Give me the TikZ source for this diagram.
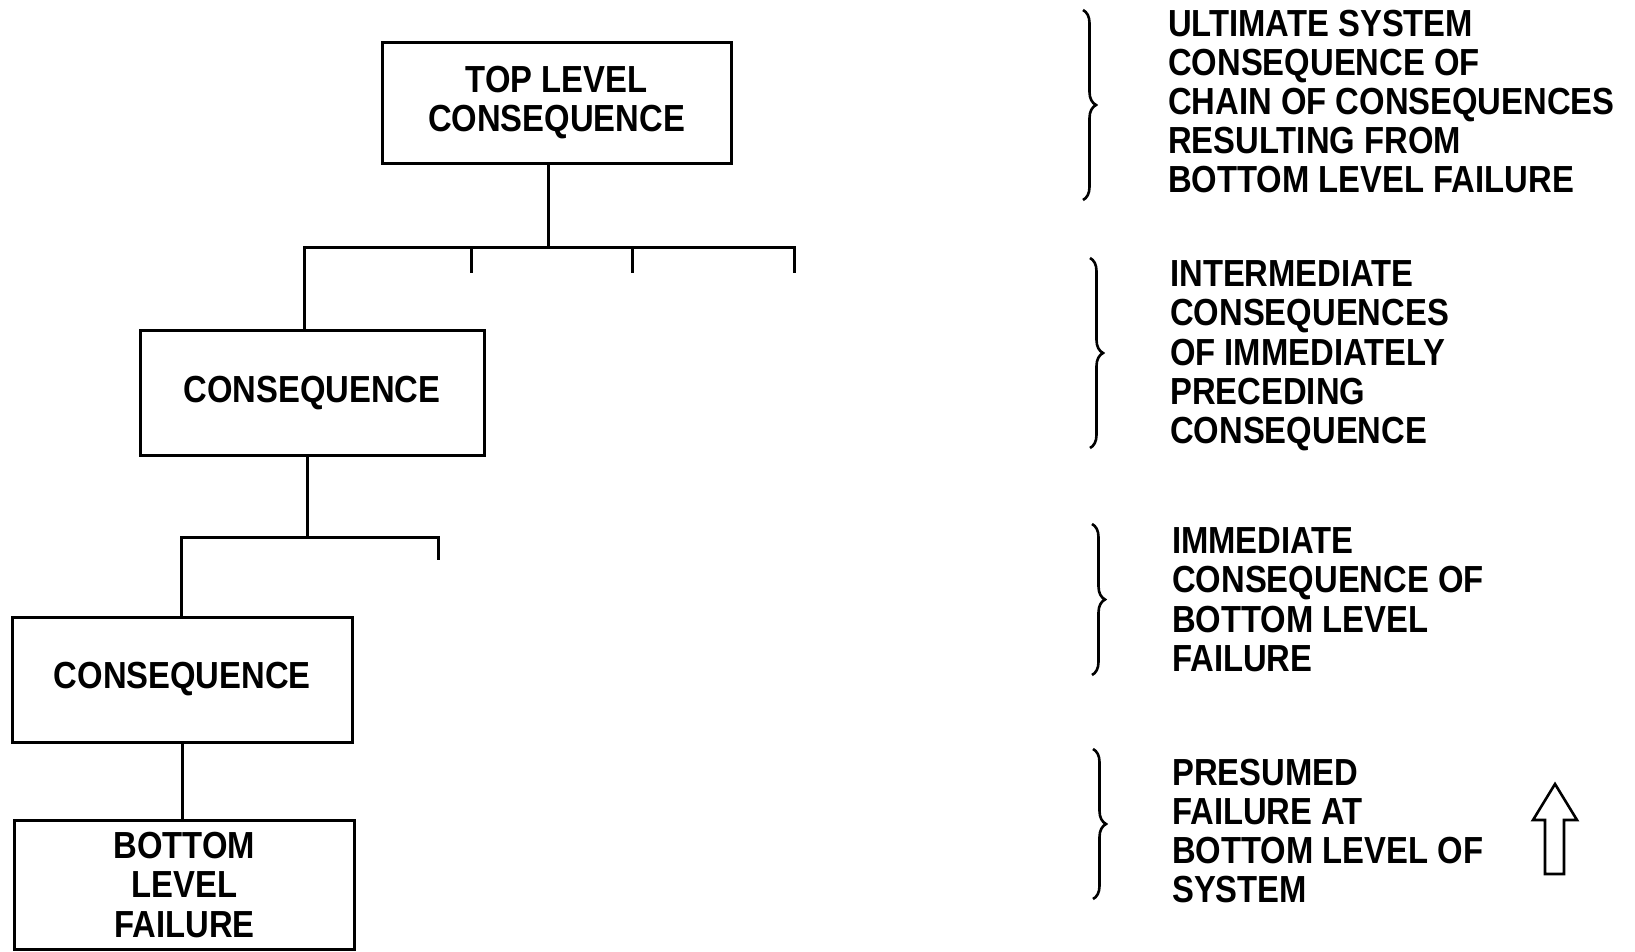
\documentclass[tikz,border=0pt]{standalone}
\usepackage{fontspec}
\newfontfamily\labfont{Liberation Sans}[FakeStretch=0.87]
\usetikzlibrary{decorations.pathreplacing}
\tikzset{
  lab/.style={font=\labfont\bfseries\fontsize{37.7}{39.2}\selectfont},
  boxnode/.style={draw, line width=3pt, lab, align=center, inner sep=0pt},
  conn/.style={line width=3pt},
  brc/.style={line width=2.6pt, decorate, decoration={brace, amplitude=13pt, aspect=0.5}},
  note/.style={lab, align=left, anchor=north west, inner sep=0pt},
}
\begin{document}
\begin{tikzpicture}[x=1pt,y=-1pt]
\useasboundingbox (0,0) rectangle (1635,951);
% boxes
\node[boxnode, minimum width=349pt, minimum height=121pt] (top) at (556.5,102.5) {TOP LEVEL\\CONSEQUENCE};
\node[boxnode, minimum width=344pt, minimum height=125pt] (c1) at (312,393) {CONSEQUENCE};
\node[boxnode, minimum width=339.5pt, minimum height=125pt] (c2) at (182.3,679.5) {CONSEQUENCE};
\node[boxnode, minimum width=340pt, minimum height=129pt] (bot) at (184.5,885) {BOTTOM\\LEVEL\\FAILURE};
% junctions
\coordinate (j1) at (548.5,247);
\coordinate (k1) at (304.5,247);
\coordinate (t1a) at (471,273);
\coordinate (t1b) at (632,273);
\coordinate (t1c) at (794.5,273);
\coordinate (j2) at (307.6,537);
\coordinate (k2) at (181.4,537);
\coordinate (t2a) at (438,560);
% connectors
\draw[conn] (top.south -| j1) -- (j1);
\draw[conn] (c1.north -| k1) -- (k1) -- (t1c |- k1) -- (t1c);
\draw[conn] (t1a |- k1) -- (t1a);
\draw[conn] (t1b |- k1) -- (t1b);
\draw[conn] (c1.south -| j2) -- (j2);
\draw[conn] (c2.north -| k2) -- (k2) -- (t2a |- k2) -- (t2a);
\draw[conn] (c2.south) -- (c2.south |- bot.north);
% braces
\coordinate (b1s) at (1083,10);   \coordinate (b1e) at (1083,200);
\coordinate (b2s) at (1090,258);  \coordinate (b2e) at (1090,448);
\coordinate (b3s) at (1092,524);  \coordinate (b3e) at (1092,675);
\coordinate (b4s) at (1093,749);  \coordinate (b4e) at (1093,899);
\draw[brc] (b1s) -- (b1e);
\draw[brc] (b2s) -- (b2e);
\draw[brc] (b3s) -- (b3e);
\draw[brc] (b4s) -- (b4e);
% notes
\node[note] (n1) at (1168,9.5) {ULTIMATE SYSTEM\\CONSEQUENCE OF\\CHAIN OF CONSEQUENCES\\RESULTING FROM\\BOTTOM LEVEL FAILURE};
\node[note] (n2) at (1170,260.5) {INTERMEDIATE\\CONSEQUENCES\\OF IMMEDIATELY\\PRECEDING\\CONSEQUENCE};
\node[note] (n3) at (1172,527.5) {IMMEDIATE\\CONSEQUENCE OF\\BOTTOM LEVEL\\FAILURE};
\node[note] (n4) at (1172,758.5) {PRESUMED\\FAILURE AT\\BOTTOM LEVEL OF\\SYSTEM};
% hollow up arrow
\draw[line width=2.6pt, line join=miter] (1545,874) -- (1545,820) -- (1533,820) -- (1555,784) -- (1577,820) -- (1564,820) -- (1564,874) -- cycle;
\end{tikzpicture}
\end{document}
